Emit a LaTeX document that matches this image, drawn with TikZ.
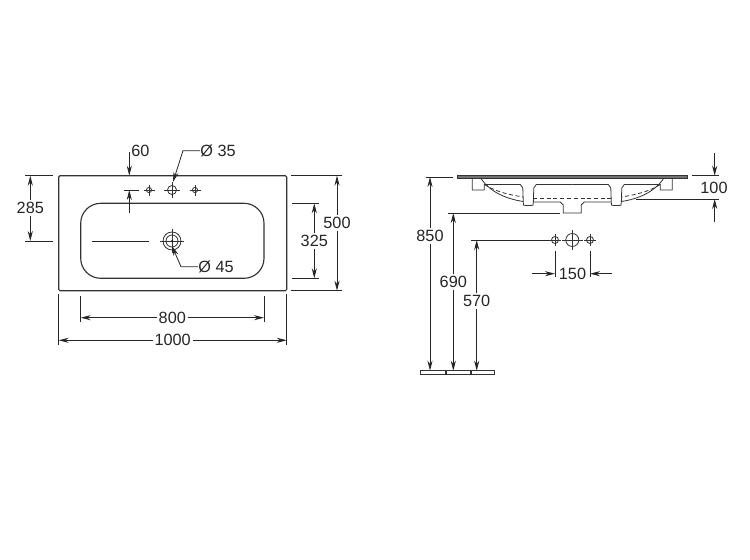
\documentclass[tikz,border=0pt]{standalone}
\usepackage{fontspec}
\setmainfont{Liberation Sans}
\usetikzlibrary{arrows.meta}

\tikzset{
	part/.style={line width=0.85pt, black!80},
	thin part/.style={line width=0.6pt, black!80},
	extline/.style={line width=0.6pt, black!85},
	dimline/.style={line width=0.6pt, black!85, -{Stealth[length=7.5pt, width=3.8pt]}},
	label/.style={font=\fontsize{12.2}{14}\selectfont, text=black!85, inner sep=1.2pt, fill=white},
}

\begin{document}
\begin{tikzpicture}[x=0.75pt, y=-0.75pt]
	\useasboundingbox (0,0) rectangle (750,560);

	% top view
	\draw[part, rounded corners=1pt] (58.7,175.7) rectangle (286.7,290.7);
	\draw[part, rounded corners=15pt] (80.7,203.3) rectangle (264,278.3);

	\foreach \x in {149,195} {
		\draw[thin part] (\x,190) circle (2.6);
		\draw[thin part] (\x-5.5,190) -- (\x+5.5,190) (\x,184.5) -- (\x,195.5);
	}
	\coordinate (T) at (172,190);
	\draw[thin part] (T) circle (4.5);
	\draw[thin part] (164,190) -- (180,190) (172,182) -- (172,198);
	\coordinate (D) at (172,241);
	\draw[thin part] (D) circle (9) (D) circle (6);
	\draw[thin part] (160,241) -- (184,241) (172,229) -- (172,253);
	\fill (D) circle (1);

	\coordinate (W1) at (25,175.7);
	\coordinate (W2) at (53,175.7);
	\coordinate (W3) at (25,241);
	\coordinate (W4) at (53,241);
	\coordinate (C1) at (91.7,241);
	\coordinate (C2) at (149,241);
	\draw[extline] (W1) -- (W2) (W3) -- (W4) (C1) -- (C2);
	\node[label] (d285) at (30.3,208) {285};
	\draw[dimline] (d285) -- (30.3,175.7);
	\draw[dimline] (d285) -- (30.3,241);

	\node[label, fill=none, inner sep=0pt] (d60) at (140.5,151) {60};
	\coordinate (S1) at (129.3,152);
	\coordinate (S2) at (129.3,175.7);
	\coordinate (S3) at (129.3,213);
	\coordinate (S4) at (129.3,190);
	\coordinate (S5) at (124,190);
	\coordinate (S6) at (139,190);
	\draw[dimline] (S1) -- (S2);
	\draw[dimline] (S3) -- (S4);
	\draw[extline] (S5) -- (S6);

	\node[label, fill=none, inner sep=0pt] (d35) at (218,151) {Ø 35};
	\coordinate (L1) at (183,150.7);
	\draw[dimline] (d35) -- (L1) -- (173,182);
	\node[label, fill=none, inner sep=0pt] (d45) at (216,267) {Ø 45};
	\coordinate (L2) at (181,266.7);
	\draw[dimline] (d45) -- (L2) -- (172,246);

	\coordinate (E1) at (291,175.7);
	\coordinate (E2) at (342,175.7);
	\coordinate (E3) at (291,290.7);
	\coordinate (E4) at (342,290.7);
	\coordinate (E5) at (292,203.3);
	\coordinate (E6) at (319,203.3);
	\coordinate (E7) at (292,278.3);
	\coordinate (E8) at (319,278.3);
	\draw[extline] (E1) -- (E2) (E3) -- (E4) (E5) -- (E6) (E7) -- (E8);
	\node[label] (d500) at (337,223) {500};
	\draw[dimline] (d500) -- (E2 -| d500);
	\draw[dimline] (d500) -- (E4 -| d500);
	\node[label] (d325) at (314.3,241) {325};
	\draw[dimline] (d325) -- (E6 -| d325);
	\draw[dimline] (d325) -- (E8 -| d325);

	\coordinate (F1) at (80.7,296);
	\coordinate (F2) at (80.7,322);
	\coordinate (F3) at (264,296);
	\coordinate (F4) at (264,322);
	\coordinate (F5) at (58.7,294);
	\coordinate (F6) at (58.7,345);
	\coordinate (F7) at (286.7,294);
	\coordinate (F8) at (286.7,345);
	\draw[extline] (F1) -- (F2) (F3) -- (F4) (F5) -- (F6) (F7) -- (F8);
	\node[label] (d800) at (172.3,317.7) {800};
	\draw[dimline] (d800) -- (80.7,317.7);
	\draw[dimline] (d800) -- (264,317.7);
	\node[label] (d1000) at (172.7,340.3) {1000};
	\draw[dimline] (d1000) -- (58.7,340.3);
	\draw[dimline] (d1000) -- (286.7,340.3);

	% side view
	\draw[part, fill=black!55, line width=0.5pt] (457.7,175.7) rectangle (687,178);
	\foreach \m in {1,-1} {
		\begin{scope}[shift={(572.3,0)}, xscale=\m]
			\draw[thin part] (-107,178.5) -- (-100,178.5) -- (-100,190) -- (-88,190) -- (-88,184.5)
				-- (-52,184.5) -- (-49.5,188) -- (-49,203)
				.. controls (-49,205.5) .. (-46,205.5) -- (-42,205.5) .. controls (-39,205.5) .. (-39,203)
				-- (-38.5,188) -- (-36,184.5) -- (0,184.5);
			\draw[thin part] (-91,179) .. controls (-82,192) and (-66,199) .. (-49,201.5);
			\draw[thin part] (-39,202) -- (-12,202) -- (-9,205) -- (-9,213) -- (0,213);
			\draw[thin part, dash pattern=on 3pt off 2pt] (-88,184.5) .. controls (-76,192) and (-62,195) .. (-49,197);
			\draw[thin part, dash pattern=on 3pt off 2pt] (-39,198.3) -- (0,198.3);
		\end{scope}
	}
	\foreach \x in {555,590} {
		\draw[thin part] (\x,240) circle (3.5);
		\draw[thin part] (\x-6,240) -- (\x+6,240) (\x,234) -- (\x,246);
	}
	\draw[thin part] (572.3,240) circle (6.5);
	\draw[thin part] (562,240) -- (583,240) (572.3,230) -- (572.3,250);

	\draw[thin part] (420.7,370.7) rectangle (445,374.3);
	\draw[thin part] (446.5,370.7) rectangle (470,374.3);
	\draw[thin part] (471.5,370.7) rectangle (494.7,374.3);

	\coordinate (H1) at (426,177);
	\coordinate (H2) at (453,177);
	\coordinate (H3) at (448,213);
	\coordinate (H4) at (560,213);
	\coordinate (H5) at (471,240);
	\coordinate (H6) at (549,240);
	\draw[extline] (H1) -- (H2) (H3) -- (H4) (H5) -- (H6);
	\node[label] (d850) at (430,236) {850};
	\draw[dimline] (d850) -- (430,177);
	\draw[dimline] (d850) -- (430,370.7);
	\node[label] (d690) at (453.3,282) {690};
	\draw[dimline] (d690) -- (453.3,213);
	\draw[dimline] (d690) -- (453.3,370.7);
	\node[label] (d570) at (476.7,301) {570};
	\draw[dimline] (d570) -- (476.7,240);
	\draw[dimline] (d570) -- (476.7,370.7);

	\coordinate (G1) at (555,251);
	\coordinate (G2) at (555,277);
	\coordinate (G3) at (590,251);
	\coordinate (G4) at (590,277);
	\coordinate (G5) at (532,273.7);
	\coordinate (G6) at (555,273.7);
	\coordinate (G7) at (612,273.7);
	\coordinate (G8) at (590,273.7);
	\draw[extline] (G1) -- (G2) (G3) -- (G4);
	\draw[dimline] (G5) -- (G6);
	\draw[dimline] (G7) -- (G8);
	\node[label, fill=none, inner sep=0pt] (d150) at (572.5,274) {150};

	\coordinate (K1) at (692,175.7);
	\coordinate (K2) at (719,175.7);
	\coordinate (K3) at (636,199);
	\coordinate (K4) at (719,199);
	\coordinate (K5) at (714.7,153);
	\coordinate (K6) at (714.7,175.7);
	\coordinate (K7) at (714.7,222);
	\coordinate (K8) at (714.7,199);
	\draw[extline] (K1) -- (K2) (K3) -- (K4);
	\draw[dimline] (K5) -- (K6);
	\draw[dimline] (K7) -- (K8);
	\node[label, fill=none, inner sep=0pt] (d100) at (714,187.5) {100};
\end{tikzpicture}
\end{document}
